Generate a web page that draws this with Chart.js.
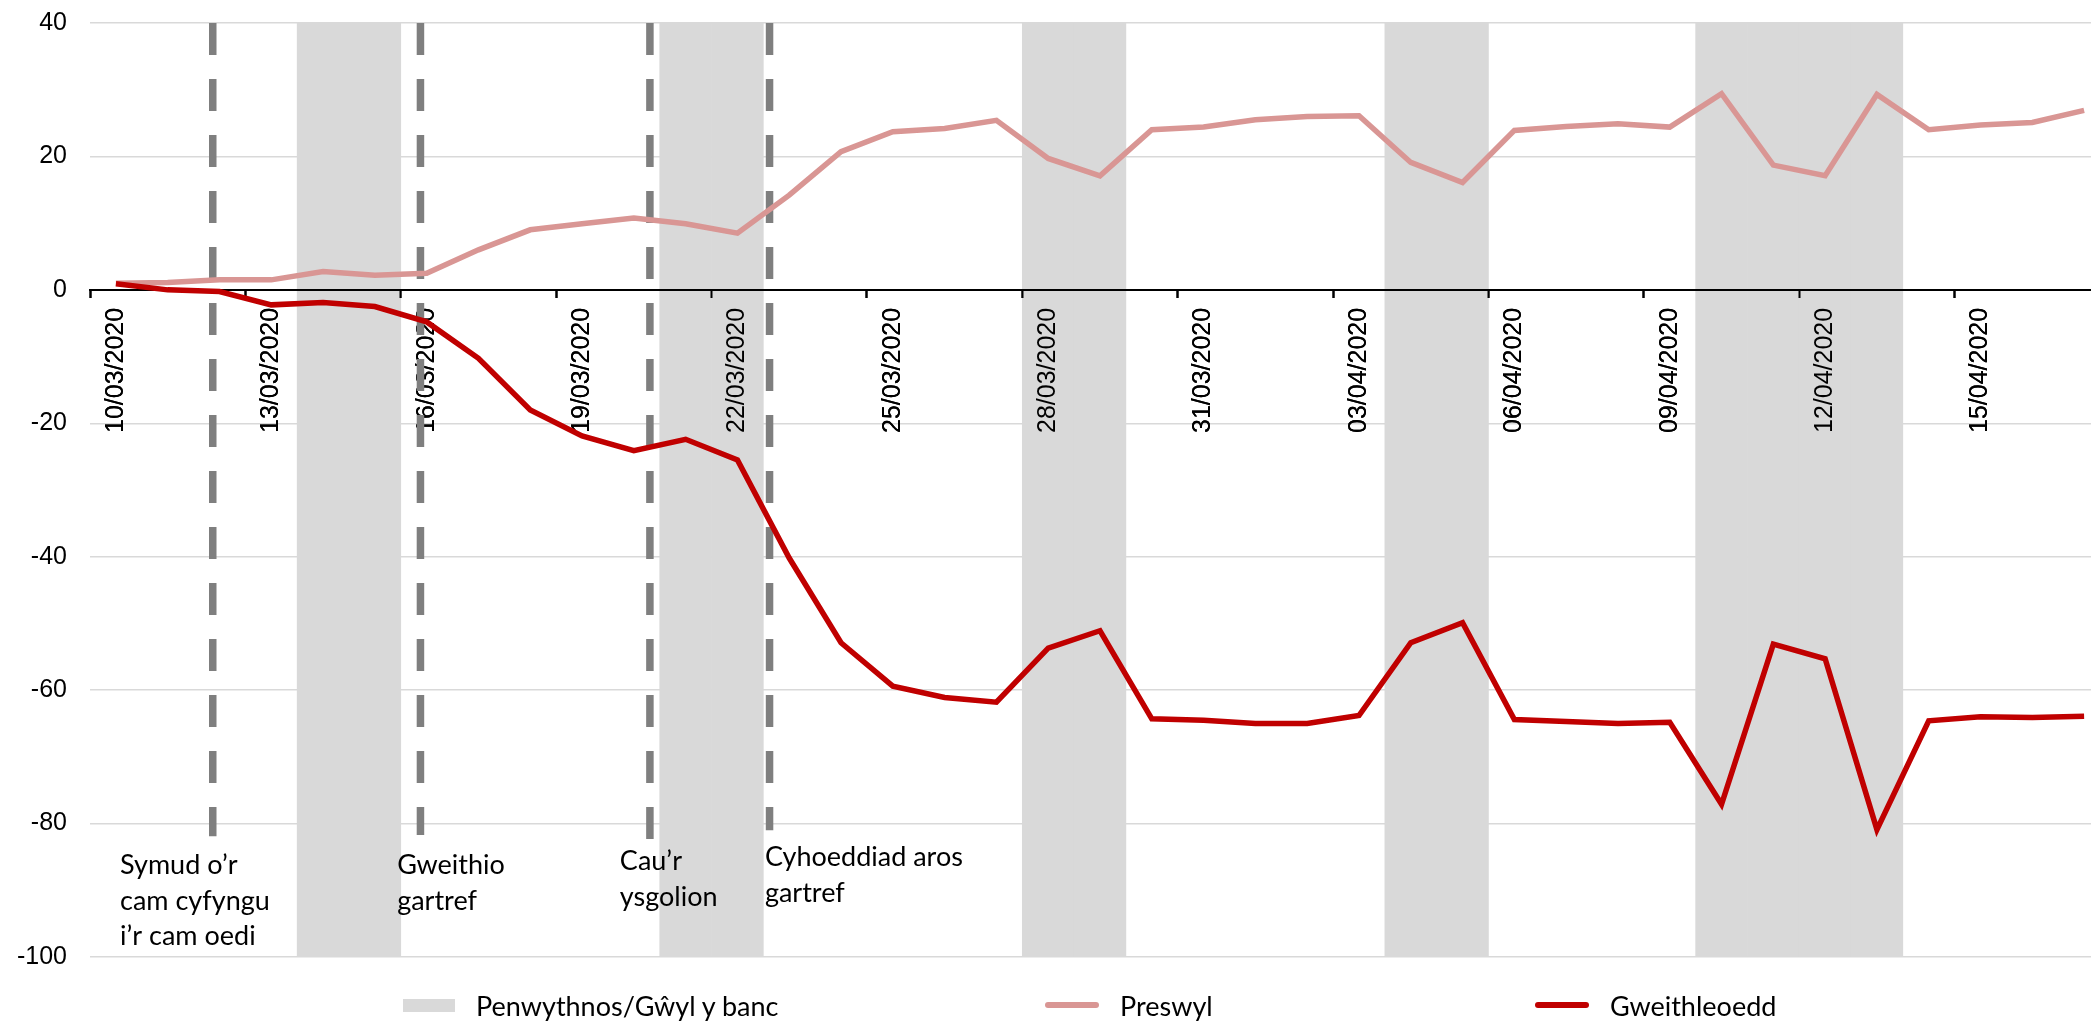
<!DOCTYPE html>
<html>
<head>
<meta charset="utf-8">
<script src="https://cdn.jsdelivr.net/npm/chart.js@4.4.1/dist/chart.umd.min.js"></script>
<style>
  html, body { margin: 0; padding: 0; background: #fff; overflow: hidden; }
  #wrap { position: relative; width: 2091px; height: 1022px; overflow: hidden; }
  #chart { position: absolute; left: 0; top: 0; }
  #legend { position: absolute; left: 0; top: 986px; width: 2091px; height: 38px;
            font-family: Lato, 'Open Sans', sans-serif; font-size: 27px; color: #000; }
  .item { position: absolute; top: 0; height: 38px; display: flex; align-items: center; white-space: nowrap; }
  .swatch { margin-right: 21px; }
</style>
</head>
<body>
<div id="wrap">
  <canvas id="chart" width="2184" height="1022"></canvas>
  <div id="legend"></div>
</div>
<script>
document.addEventListener('DOMContentLoaded', function() {
    const dates = [
        '10/03/2020', '11/03/2020', '12/03/2020', '13/03/2020', '14/03/2020', '15/03/2020',
        '16/03/2020', '17/03/2020', '18/03/2020', '19/03/2020', '20/03/2020', '21/03/2020',
        '22/03/2020', '23/03/2020', '24/03/2020', '25/03/2020', '26/03/2020', '27/03/2020',
        '28/03/2020', '29/03/2020', '30/03/2020', '31/03/2020', '01/04/2020', '02/04/2020',
        '03/04/2020', '04/04/2020', '05/04/2020', '06/04/2020', '07/04/2020', '08/04/2020',
        '09/04/2020', '10/04/2020', '11/04/2020', '12/04/2020', '13/04/2020', '14/04/2020',
        '15/04/2020', '16/04/2020', '17/04/2020'
    ];

    // Preswyl (residential)
    const residential = [
        1.0, 1.1, 1.5, 1.5, 2.75, 2.2, 2.5, 6.0, 9.0, 9.9, 10.75, 9.9, 8.5,
        14.2, 20.7, 23.7, 24.2, 25.4, 19.7, 17.1, 24.0, 24.4, 25.5, 26.0, 26.1,
        19.1, 16.1, 23.9, 24.5, 24.9, 24.4, 29.4, 18.7, 17.1, 29.3, 24.0, 24.7, 25.1, 26.9
    ];

    // Gweithleoedd (workplaces)
    const workplaces = [
        0.9, 0, -0.25, -2.25, -1.9, -2.5, -4.8, -10.25, -18.0, -21.9, -24.1, -22.4, -25.5,
        -40.2, -52.9, -59.4, -61.1, -61.8, -53.7, -51.1, -64.3, -64.5, -65.0, -65.0, -63.8,
        -52.9, -49.9, -64.4, -64.7, -65.0, -64.8, -77.1, -53.1, -55.3, -80.9, -64.6, -64.0, -64.1, -63.9
    ];

    // weekends and bank holidays (shaded)
    const offDays = [
        '14/03/2020', '15/03/2020', '21/03/2020', '22/03/2020', '28/03/2020', '29/03/2020',
        '04/04/2020', '05/04/2020', '10/04/2020', '11/04/2020', '12/04/2020', '13/04/2020'
    ];

    const yTicks = [-100, -80, -60, -40, -20, 0, 20, 40];

    // policy events: position in days from 10/03 and the lower end of the marker
    const eventDay = [1.87, 5.88, 10.31, 12.62];
    const eventLow = [-81.9, -81.7, -82.3, -81.0];
    const eventText = [
        ['Symud o’r', 'cam cyfyngu', 'i’r cam oedi'],
        ['Gweithio', 'gartref'],
        ['Cau’r', 'ysgolion'],
        ['Cyhoeddiad aros', 'gartref']
    ];
    // where each label starts (day units / y units)
    const notePos = [
        { x: 0.08, y: -87.6 },
        { x: 5.43, y: -87.6 },
        { x: 9.73, y: -87.0 },
        { x: 12.53, y: -86.4 }
    ];

    const yMin = yTicks[0];
    const yMax = yTicks[yTicks.length - 1];

    const bandData = dates.map(d => offDays.includes(d) ? [yMin, yMax] : null);

    const eventSets = eventDay.map((d, i) => ({
        type: 'line',
        label: '',
        data: [{ x: d, y: yMax }, { x: d, y: eventLow[i] }],
        xAxisID: 'xe',
        borderColor: '#7f7f7f',
        borderWidth: 7.5,
        borderDash: [32, 24],
        borderCapStyle: 'butt',
        pointRadius: 0,
        order: 5
    }));

    const overlay = {
        id: 'overlay',
        afterDatasetDraw(chart, args) {
            // put the date axis back on top of the shaded bands
            if (args.index !== 0) return;
            const x = chart.scales.x;
            x.drawGrid(chart.chartArea);
            x.drawBorder();
            x.drawLabels(chart.chartArea);
        },
        afterDatasetsDraw(chart) {
            const ctx = chart.ctx;
            const xe = chart.scales.xe;
            const y = chart.scales.y;
            ctx.save();
            ctx.font = '27px Lato, "Open Sans", sans-serif';
            ctx.fillStyle = '#000';
            ctx.textAlign = 'left';
            ctx.textBaseline = 'alphabetic';
            eventText.forEach((lines, i) => {
                const px = xe.getPixelForValue(notePos[i].x);
                const py = y.getPixelForValue(notePos[i].y);
                lines.forEach((t, j) => ctx.fillText(t, px, py + j * 35.5));
            });
            ctx.restore();
        }
    };

    const ctx = document.getElementById('chart').getContext('2d');
    const chart = new Chart(ctx, {
        type: 'line',
        data: {
            labels: dates,
            datasets: [{
                type: 'bar',
                label: 'Penwythnos/Gŵyl y banc',
                data: bandData,
                xAxisID: 'x',
                grouped: false,
                backgroundColor: '#d9d9d9',
                borderWidth: 0,
                barPercentage: 1,
                categoryPercentage: 1,
                order: 10
            }, {
                label: 'Preswyl',
                data: residential,
                xAxisID: 'x',
                borderColor: '#d99694',
                backgroundColor: '#d99694',
                borderWidth: 5.5,
                pointRadius: 0,
                tension: 0,
                order: 2
            }, {
                label: 'Gweithleoedd',
                data: workplaces,
                xAxisID: 'x',
                borderColor: '#c00000',
                backgroundColor: '#c00000',
                borderWidth: 5.5,
                pointRadius: 0,
                tension: 0,
                order: 1
            }, ...eventSets]
        },
        options: {
            responsive: false,
            animation: false,
            devicePixelRatio: 1,
            layout: { padding: { top: 23, bottom: 65, left: 16, right: 74 } },
            plugins: { legend: { display: false }, tooltip: { enabled: false } },
            scales: {
                x: {
                    type: 'category',
                    position: { y: 0 },
                    offset: true,
                    grid: {
                        offset: true,
                        drawOnChartArea: false,
                        tickLength: 7,
                        tickWidth: 2,
                        tickColor: c => (c.index % 3 === 0 ? '#000' : 'rgba(0,0,0,0)')
                    },
                    border: { display: true, color: '#000', width: 2 },
                    ticks: {
                        autoSkip: false,
                        minRotation: 90,
                        maxRotation: 90,
                        padding: 11,
                        color: '#000',
                        font: { family: '"Liberation Sans", Arial, sans-serif', size: 25 },
                        callback: function(v, i) { return i % 3 === 0 ? this.getLabelForValue(v) : ''; }
                    }
                },
                xe: { type: 'linear', display: false, min: -0.5, max: dates.length - 0.5 },
                y: {
                    min: yMin,
                    max: yMax,
                    afterFit: s => { s.width = 74; },
                    afterBuildTicks: s => { s.ticks = yTicks.map(v => ({ value: v })); },
                    grid: { color: '#d9d9d9', lineWidth: 1.5, drawTicks: true, tickLength: 23, tickColor: 'rgba(0,0,0,0)' },
                    border: { display: false },
                    ticks: {
                        padding: 0,
                        color: '#000',
                        font: { family: '"Liberation Sans", Arial, sans-serif', size: 25 }
                    }
                }
            }
        },
        plugins: [overlay]
    });

    // legend laid out like the original (spread along the bottom)
    const legendLeft = [403, 1045, 1535];
    const legendEl = document.getElementById('legend');
    chart.data.datasets.slice(0, 3).forEach((ds, i) => {
        const item = document.createElement('div');
        item.className = 'item';
        item.style.left = legendLeft[i] + 'px';
        const sw = document.createElement('span');
        sw.className = 'swatch';
        if (ds.type === 'bar') {
            sw.style.cssText = `display:inline-block;width:52px;height:13px;background:${ds.backgroundColor}`;
        } else {
            sw.style.cssText = `display:inline-block;width:54px;height:6px;border-radius:3px;background:${ds.borderColor}`;
        }
        item.appendChild(sw);
        item.appendChild(document.createTextNode(ds.label));
        legendEl.appendChild(item);
    });
});
</script>
</body>
</html>
